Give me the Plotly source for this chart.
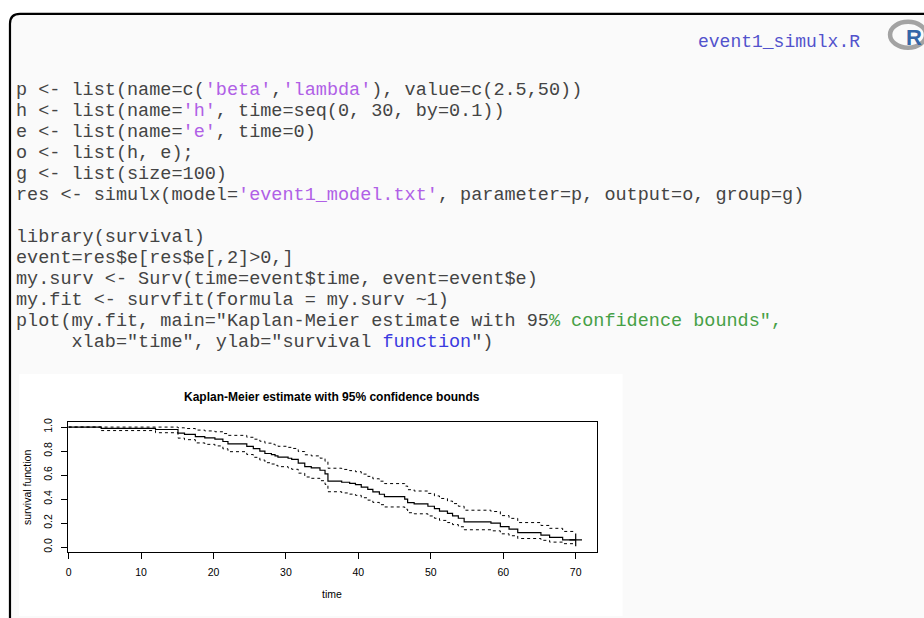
import plotly.graph_objects as go

# ---------------- data ----------------
times = [0, 4.5, 12.0, 15.1, 16.0, 17.5, 18.8, 20.2, 21.3, 22.0,
         24.6, 25.5, 26.4, 27.1, 28.0, 28.5, 28.9, 30.3, 30.8, 31.7,
         32.6, 33.5, 34.7, 35.4, 35.8, 37.7, 38.8, 39.6, 40.4, 41.3,
         42.0, 42.9, 43.6, 46.4, 46.8, 47.7, 49.6, 50.5, 51.2, 52.3,
         53.0, 53.8, 54.6, 58.3, 59.6, 60.8, 62.0, 65.2, 66.4, 68.2, 70.0]
surv = [1.00, 0.99, 0.98, 0.95, 0.94, 0.92, 0.91, 0.90, 0.88, 0.86,
        0.84, 0.82, 0.80, 0.78, 0.77, 0.76, 0.75, 0.74, 0.73, 0.70,
        0.67, 0.66, 0.64, 0.61, 0.55, 0.54, 0.53, 0.52, 0.50, 0.48,
        0.46, 0.44, 0.42, 0.40, 0.37, 0.36, 0.34, 0.32, 0.30, 0.28,
        0.26, 0.24, 0.21, 0.20, 0.17, 0.15, 0.12, 0.10, 0.08, 0.06, 0.06]
upper = [1.000, 1.000, 1.000, 0.994, 0.988, 0.975, 0.968, 0.961, 0.946, 0.931,
         0.915, 0.899, 0.882, 0.866, 0.857, 0.848, 0.840, 0.831, 0.822, 0.796,
         0.769, 0.760, 0.741, 0.714, 0.657, 0.647, 0.637, 0.628, 0.608, 0.589,
         0.569, 0.549, 0.529, 0.508, 0.478, 0.467, 0.447, 0.426, 0.405, 0.383,
         0.362, 0.340, 0.307, 0.296, 0.262, 0.239, 0.204, 0.180, 0.156, 0.130, 0.130]
lower = [1.000, 0.971, 0.953, 0.908, 0.895, 0.868, 0.856, 0.843, 0.819, 0.795,
         0.771, 0.748, 0.725, 0.703, 0.692, 0.681, 0.670, 0.659, 0.648, 0.616,
         0.584, 0.573, 0.553, 0.522, 0.461, 0.451, 0.441, 0.431, 0.411, 0.391,
         0.372, 0.353, 0.334, 0.315, 0.286, 0.277, 0.259, 0.240, 0.222, 0.204,
         0.187, 0.169, 0.144, 0.135, 0.110, 0.094, 0.071, 0.056, 0.041, 0.028, 0.028]
censor_time = [70.0]
censor_surv = [0.06]

x_ticks = [0, 10, 20, 30, 40, 50, 60, 70]
x_tick_labels = ["0", "10", "20", "30", "40", "50", "60", "70"]
y_ticks = [0.0, 0.2, 0.4, 0.6, 0.8, 1.0]
y_tick_labels = ["0.0", "0.2", "0.4", "0.6", "0.8", "1.0"]

plot_title = "Kaplan-Meier estimate with 95% confidence bounds"
x_label = "time"
y_label = "survival function"
file_name = "event1_simulx.R"

DEF = None
PURPLE = "#b060e6"
GREEN = "#46a046"
BLUE = "#3a3ae0"
code_lines = [
    [("p <- list(name=c(", DEF), ("'beta'", PURPLE), (",", DEF), ("'lambda'", PURPLE), ("), value=c(2.5,50))", DEF)],
    [("h <- list(name=", DEF), ("'h'", PURPLE), (", time=seq(0, 30, by=0.1))", DEF)],
    [("e <- list(name=", DEF), ("'e'", PURPLE), (", time=0)", DEF)],
    [("o <- list(h, e);", DEF)],
    [("g <- list(size=100)", DEF)],
    [("res <- simulx(model=", DEF), ("'event1_model.txt'", PURPLE), (", parameter=p, output=o, group=g)", DEF)],
    [],
    [("library(survival)", DEF)],
    [("event=res$e[res$e[,2]>0,]", DEF)],
    [("my.surv <- Surv(time=event$time, event=event$e)", DEF)],
    [("my.fit <- survfit(formula = my.surv ~1)", DEF)],
    [("plot(my.fit, main=\"Kaplan-Meier estimate with 95", DEF), ("% confidence bounds\",", GREEN)],
    [("     xlab=\"time\", ylab=\"survival ", DEF), ("function", BLUE), ("\")", DEF)],
]

# ---------------- helpers ----------------
W, H = 924, 618


def px(x):
    return x / W


def py(y):
    return 1 - y / H


def esc(s):
    s = s.replace("&", "&amp;").replace("<", "&lt;").replace(">", "&gt;")
    return s.replace(" ", "\u00a0")


def render(segs):
    out = ""
    for txt, col in segs:
        t = esc(txt)
        if col:
            out += '<span style="color:%s">%s</span>' % (col, t)
        else:
            out += t
    return out


fig = go.Figure()

fig.add_trace(go.Scatter(x=times, y=upper, mode="lines", line=dict(color="black", width=1, dash="3px,3px", shape="hv"),
                         hoverinfo="skip", showlegend=False))
fig.add_trace(go.Scatter(x=times, y=lower, mode="lines", line=dict(color="black", width=1, dash="3px,3px", shape="hv"),
                         hoverinfo="skip", showlegend=False))
fig.add_trace(go.Scatter(x=times, y=surv, mode="lines", line=dict(color="black", width=1.2, shape="hv"),
                         hoverinfo="skip", showlegend=False))
fig.add_trace(go.Scatter(x=censor_time, y=censor_surv, mode="markers",
                         marker=dict(symbol="cross-thin", size=9, line=dict(color="black", width=1.2)),
                         hoverinfo="skip", showlegend=False))

shapes = []
# slide frame with rounded corner
x0, yt = px(8), py(10)
rx, ry = 10 / W, 10 / H
shapes.append(dict(type="path", xref="paper", yref="paper", layer="below",
                   path="M %f,-0.2 L %f,%f Q %f,%f %f,%f L 1.2,%f L 1.2,-0.2 Z" % (
                       x0, x0, yt - ry, x0, yt, x0 + rx, yt, yt),
                   fillcolor="#fafafa", line=dict(color="black", width=2.2)))
# white plot image
shapes.append(dict(type="rect", xref="paper", yref="paper", layer="below",
                   x0=px(17), x1=px(622), y0=py(617), y1=py(373),
                   fillcolor="white", line=dict(width=0)))
# R logo ring
shapes.append(dict(type="circle", xref="paper", yref="paper",
                   x0=px(890), x1=px(926), y0=py(44), y1=py(18),
                   fillcolor="rgba(0,0,0,0)", line=dict(color="#a3a3a3", width=4.5)))

annotations = []
line_h = 21.2
y_first = 87.0
for i, segs in enumerate(code_lines):
    if not segs:
        continue
    annotations.append(dict(x=px(12), y=py(y_first + i * line_h), xref="paper", yref="paper",
                            xanchor="left", yanchor="middle", align="left", showarrow=False,
                            text=render(segs),
                            font=dict(family="Liberation Mono", size=18.5, color="#444444")))
annotations.append(dict(x=px(696), y=py(38), xref="paper", yref="paper", xanchor="left", yanchor="middle",
                        showarrow=False, text=esc(file_name),
                        font=dict(family="Liberation Mono", size=18, color="#5252cc")))
annotations.append(dict(x=px(914), y=py(34), xref="paper", yref="paper", xanchor="center", yanchor="middle",
                        showarrow=False, text="<b>R</b>",
                        font=dict(family="Liberation Sans", size=22, color="#3466a8")))
annotations.append(dict(x=px(331), y=py(396.5), xref="paper", yref="paper", xanchor="center", yanchor="middle",
                        showarrow=False, text="<b>%s</b>" % plot_title,
                        font=dict(family="Liberation Sans", size=12, color="black")))
annotations.append(dict(x=px(331), y=py(595), xref="paper", yref="paper", xanchor="center", yanchor="middle",
                        showarrow=False, text=x_label,
                        font=dict(family="Liberation Sans", size=10.5, color="black")))
annotations.append(dict(x=px(25), y=py(487), xref="paper", yref="paper", xanchor="center", yanchor="middle",
                        showarrow=False, text=y_label, textangle=-90,
                        font=dict(family="Liberation Sans", size=10.5, color="black")))

fig.update_layout(
    width=W, height=H, margin=dict(l=0, r=0, t=0, b=0),
    paper_bgcolor="white", plot_bgcolor="white",
    shapes=shapes, annotations=annotations,
    xaxis=dict(domain=[px(66), px(596)], range=[-0.1, 72.9], showgrid=False, zeroline=False,
               showline=True, mirror=True, linecolor="black", linewidth=1,
               ticks="outside", ticklen=6, tickcolor="black", tickwidth=1,
               tickvals=x_ticks, ticktext=x_tick_labels, ticklabelstandoff=5,
               tickfont=dict(family="Liberation Sans", size=10.5, color="black")),
    yaxis=dict(domain=[py(552.3), py(421.7)], range=[-0.04, 1.04], showgrid=False, zeroline=False,
               showline=True, mirror=True, linecolor="black", linewidth=1,
               ticks="outside", ticklen=6, tickcolor="black", tickwidth=1,
               tickvals=y_ticks, ticktext=y_tick_labels, tickangle=-90, ticklabelstandoff=5,
               tickfont=dict(family="Liberation Sans", size=10.5, color="black")),
)

fig.write_html("out.html")
